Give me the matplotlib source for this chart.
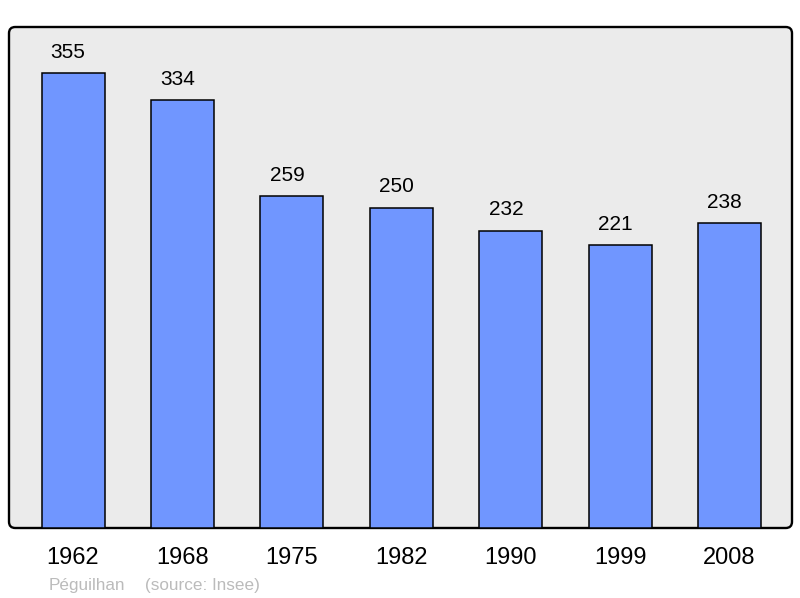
import matplotlib
matplotlib.use("Agg")
import matplotlib.pyplot as plt
from matplotlib.patches import FancyBboxPatch

annees = ["1962", "1968", "1975", "1982", "1990", "1999", "2008"]
population = [355, 334, 259, 250, 232, 221, 238]

plt.rcParams['font.family'] = ['Liberation Sans', 'DejaVu Sans']

fig = plt.figure(figsize=(8, 5.98), dpi=100)
ax = fig.add_axes([9 / 800, 1 - 528 / 598, 783 / 800, 501 / 598])
ax.set_facecolor("none")
for s in ax.spines.values():
    s.set_visible(False)

# fond arrondi
fond = FancyBboxPatch((0, 0), 1, 1, boxstyle="round,pad=0,rounding_size=0.008",
                      mutation_aspect=783 / 501, transform=ax.transAxes,
                      facecolor="#ebebeb", edgecolor="black", linewidth=1.7,
                      clip_on=False, zorder=0)
ax.add_patch(fond)

x = range(len(annees))
barres = ax.bar(x, population, width=0.576, color="#7096ff",
                edgecolor="black", linewidth=1.1, zorder=2)
for b, v in zip(barres, population):
    ax.annotate(str(v), (b.get_x() + b.get_width() / 2, v),
                xytext=(-3.5, 11), textcoords="offset points",
                ha="center", va="baseline", fontsize=15)

ax.set_xlim(-0.585, 6.57)
ax.set_ylim(0, 391)
ax.set_yticks([])
ax.set_xticks(list(x))
ax.set_xticklabels(annees, fontsize=17)
ax.tick_params(axis="x", length=0, pad=14)

fig.text(49 / 800, 1 - 590 / 598, "Péguilhan",
         fontsize=12.3, color="#bbbbbb", va="baseline")
fig.text(145 / 800, 1 - 590 / 598, "(source: Insee)",
         fontsize=12.3, color="#bbbbbb", va="baseline")

fig.savefig("out.png", dpi=100)
